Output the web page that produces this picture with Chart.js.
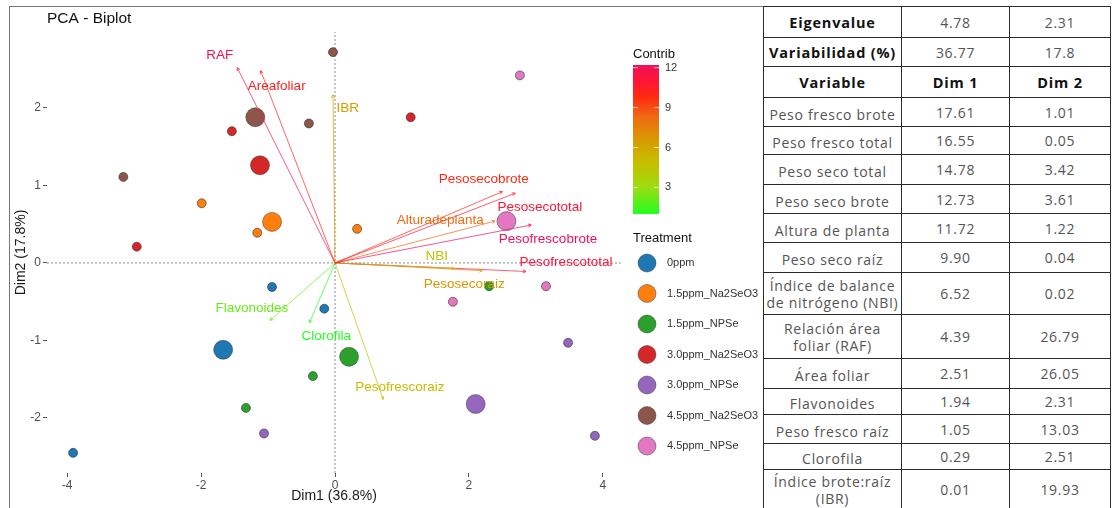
<!DOCTYPE html>
<html lang="es">
<head>
<meta charset="utf-8">
<title>PCA - Biplot</title>
<script src="https://cdn.jsdelivr.net/npm/chart.js@4.4.0/dist/chart.umd.min.js"></script>
<style>
  * { box-sizing: border-box; }
  body { margin: 0; background: #fff; width: 1112px; height: 508px; overflow: hidden; position: relative; }
  .frame { position: absolute; left: 9px; top: 6px; width: 760px; height: 510px; border-left: 1.5px solid #777; border-top: 1.5px solid #777; }
  #biplot { position: absolute; left: 0; top: 0; }
  table { position: absolute; left: 763px; top: 6px; border-collapse: collapse; font-family: "Open Sans", sans-serif; table-layout: fixed; }
  td { border: 1.5px solid #2b2b2b; text-align: center; padding: 0; font-size: 14px; color: #555; letter-spacing: 0.7px; line-height: 17px; white-space: nowrap; }
  td.h { font-weight: bold; color: #111; font-size: 14.5px; letter-spacing: 0.8px; }
  td.lbl { padding-top: 4px; }
</style>
</head>
<body>

<div class="frame"></div>
<canvas id="biplot" width="762" height="508"></canvas>
<table id="contribTable"></table>

<script>
// ---- data ----
const treatments = ['0ppm', '1.5ppm_Na2SeO3', '1.5ppm_NPSe', '3.0ppm_Na2SeO3', '3.0ppm_NPSe', '4.5ppm_Na2SeO3', '4.5ppm_NPSe'];
const indX = [[-0.94, -0.16, -3.91], [-1.99, -1.16, 0.33], [-0.33, -1.33, 2.30], [-1.54, -2.96, 1.13], [-1.06, 3.48, 3.88], [-0.03, -0.39, -3.16], [2.76, 1.76, 3.15]];
const indY = [[-0.31, -0.59, -2.45], [0.77, 0.39, 0.44], [-1.46, -1.87, -0.30], [1.70, 0.21, 1.88], [-2.20, -1.03, -2.23], [2.72, 1.80, 1.11], [2.42, -0.50, -0.30]];
const meanX = [-1.67, -0.94, 0.21, -1.12, 2.10, -1.19, 2.56];
const meanY = [-1.12, 0.53, -1.21, 1.26, -1.82, 1.88, 0.54];

const varNames = ['RAF', 'Areafoliar', 'IBR', 'Pesosecobrote', 'Pesosecototal', 'Pesofrescobrote', 'Alturadeplanta', 'NBI', 'Pesofrescototal', 'Pesosecoraiz', 'Flavonoides', 'Clorofila', 'Pesofrescoraiz'];
const arrowX = [-1.46, -1.11, -0.03, 2.50, 2.69, 2.93, 2.39, 1.79, 2.85, 2.20, -0.97, -0.38, 0.72];
const arrowY = [2.52, 2.48, 2.17, 0.92, 0.90, 0.49, 0.54, -0.07, -0.11, -0.10, -0.74, -0.77, -1.76];
const varContrib = [11.7, 10.2, 6.5, 9.8, 11.1, 12.2, 8.3, 4.4, 11.2, 6.7, 2.1, 1.0, 5.0];
const labelX = [-1.72, -0.87, 0.19, 2.22, 3.06, 3.18, 1.57, 1.52, 3.45, 1.93, -1.24, -0.13, 0.97];
const labelY = [2.68, 2.28, 2.00, 1.08, 0.72, 0.31, 0.55, 0.09, 0.01, -0.28, -0.58, -0.95, -1.61];

const contribTicks = [3, 6, 9, 12];

const eigenvalues = [4.78, 2.31];
const variability = [36.77, 17.8];
const tableVars = ['Peso fresco brote', 'Peso fresco total', 'Peso seco total', 'Peso seco brote', 'Altura de planta', 'Peso seco raíz',
  'Índice de balance\nde nitrógeno (NBI)', 'Relación área\nfoliar (RAF)', 'Área foliar', 'Flavonoides', 'Peso fresco raíz', 'Clorofila', 'Índice brote:raíz\n(IBR)'];
const dim1 = [17.61, 16.55, 14.78, 12.73, 11.72, 9.90, 6.52, 4.39, 2.51, 1.94, 1.05, 0.29, 0.01];
const dim2 = [1.01, 0.05, 3.42, 3.61, 1.22, 0.04, 0.02, 26.79, 26.05, 2.31, 13.03, 2.51, 19.93];

// ---- styles ----
const groupColors = ['#1f77b4', '#ff7f0e', '#2ca02c', '#d62728', '#9467bd', '#8c564b', '#e377c2'];
const contribStops = [[1.0, '#22ff22'], [3, '#9edc10'], [5, '#c8bc00'], [6.6, '#d99a00'], [8.3, '#f06a10'], [9.8, '#ff2a12'], [11, '#ff1535'], [12.2, '#f0105a']];
const contribMin = 1.0, contribMax = 12.2;
const xMin = -4.3, xMax = 4.27, yMin = -2.71, yMax = 2.98;
const rowHeights = [31, 29, 31, 29, 28, 30, 29, 29, 30, 42, 44, 30, 26, 29, 26, 40];
const colWidths = [138, 108, 101];

function hexToRgb(h) {
  return [parseInt(h.slice(1, 3), 16), parseInt(h.slice(3, 5), 16), parseInt(h.slice(5, 7), 16)];
}
function contribColor(v, alpha) {
  let c = hexToRgb(contribStops[contribStops.length - 1][1]);
  if (v <= contribStops[0][0]) c = hexToRgb(contribStops[0][1]);
  else {
    for (let i = 1; i < contribStops.length; i++) {
      if (v <= contribStops[i][0]) {
        const a = contribStops[i - 1], b = contribStops[i];
        const t = (v - a[0]) / (b[0] - a[0]);
        const ca = hexToRgb(a[1]), cb = hexToRgb(b[1]);
        c = ca.map((x, k) => Math.round(x + (cb[k] - x) * t));
        break;
      }
    }
  }
  return 'rgba(' + c.join(',') + ',' + (alpha === undefined ? 1 : alpha) + ')';
}

// ---- table ----
(function buildTable() {
  const rows = [];
  rows.push(['Eigenvalue', eigenvalues[0].toFixed(2), eigenvalues[1].toFixed(2)]);
  rows.push(['Variabilidad (%)', String(variability[0]), String(variability[1])]);
  rows.push(['Variable', 'Dim 1', 'Dim 2']);
  tableVars.forEach((v, i) => rows.push([v, dim1[i].toFixed(2), dim2[i].toFixed(2)]));
  let html = '<colgroup>' + colWidths.map(w => '<col style="width:' + w + 'px">').join('') + '</colgroup>';
  rows.forEach((r, i) => {
    html += '<tr style="height:' + rowHeights[i] + 'px">';
    r.forEach((c, j) => {
      let cls = '';
      if ((i < 2 && j === 0) || i === 2) cls = ' class="h"';
      else if (i > 2 && j === 0 && c.indexOf('\n') < 0) cls = ' class="lbl"';
      html += '<td' + cls + '>' + c.replace('\n', '<br>') + '</td>';
    });
    html += '</tr>';
  });
  document.getElementById('contribTable').innerHTML = html;
})();

// ---- chart ----
const datasets = [];

varNames.forEach((n, i) => {
  datasets.push({
    label: n,
    data: [{ x: 0, y: 0 }, { x: arrowX[i], y: arrowY[i] }],
    showLine: true,
    borderColor: contribColor(varContrib[i], 0.7),
    borderWidth: 1,
    pointRadius: 0,
    order: 1
  });
});

datasets.push({
  label: 'means',
  data: meanX.map((x, i) => ({ x: x, y: meanY[i] })),
  pointRadius: 9.5,
  backgroundColor: groupColors,
  borderColor: 'rgba(50,50,50,0.6)',
  borderWidth: 0.8,
  order: 3
});

treatments.forEach((t, g) => {
  datasets.push({
    label: t,
    data: indX[g].map((x, i) => ({ x: x, y: indY[g][i] })),
    pointRadius: 4.5,
    backgroundColor: groupColors[g],
    borderColor: 'rgba(40,40,40,0.7)',
    borderWidth: 0.8,
    order: 4
  });
});

datasets.push({
  label: 'h0',
  data: [{ x: xMin, y: 0 }, { x: xMax, y: 0 }],
  showLine: true, borderColor: '#8a8a8a', borderWidth: 1, borderDash: [2, 2], pointRadius: 0, order: 9
});
datasets.push({
  label: 'v0',
  data: [{ x: 0, y: yMin }, { x: 0, y: yMax }],
  showLine: true, borderColor: '#8a8a8a', borderWidth: 1, borderDash: [2, 2], pointRadius: 0, order: 9
});

const biplotDecor = {
  id: 'biplotDecor',
  afterDatasetsDraw(chart) {
    const c = chart.ctx, xs = chart.scales.x, ys = chart.scales.y;
    c.save();
    // small arrow heads
    varNames.forEach((n, i) => {
      const x0 = xs.getPixelForValue(0), y0 = ys.getPixelForValue(0);
      const x1 = xs.getPixelForValue(arrowX[i]), y1 = ys.getPixelForValue(arrowY[i]);
      const ang = Math.atan2(y1 - y0, x1 - x0);
      c.strokeStyle = contribColor(varContrib[i], 0.8);
      c.lineWidth = 1;
      c.beginPath();
      c.moveTo(x1 - 3.5 * Math.cos(ang - 0.5), y1 - 3.5 * Math.sin(ang - 0.5));
      c.lineTo(x1, y1);
      c.lineTo(x1 - 3.5 * Math.cos(ang + 0.5), y1 - 3.5 * Math.sin(ang + 0.5));
      c.stroke();
    });
    // variable labels
    c.font = '13.5px "Liberation Sans", Arial, sans-serif';
    c.textAlign = 'center';
    c.textBaseline = 'middle';
    varNames.forEach((n, i) => {
      c.fillStyle = contribColor(varContrib[i], 1);
      c.fillText(n, xs.getPixelForValue(labelX[i]), ys.getPixelForValue(labelY[i]));
    });
    c.restore();
  },
  afterDraw(chart) {
    const c = chart.ctx;
    c.save();
    c.textBaseline = 'middle';
    c.textAlign = 'left';
    c.fillStyle = '#111';
    c.font = '15.5px "Liberation Sans", Arial, sans-serif';
    c.fillText('PCA - Biplot', 47, 19);

    // colour bar
    const bx = 633, bw = 26, top = 65, bot = 214;
    c.font = '13px "Liberation Sans", Arial, sans-serif';
    c.fillStyle = '#111';
    c.fillText('Contrib', bx, 54);
    const grad = c.createLinearGradient(0, bot, 0, top);
    contribStops.forEach(s => grad.addColorStop((s[0] - contribMin) / (contribMax - contribMin), s[1]));
    c.fillStyle = grad;
    c.fillRect(bx, top, bw, bot - top);
    c.font = '11px "Liberation Sans", Arial, sans-serif';
    contribTicks.forEach(v => {
      const y = bot - (v - contribMin) / (contribMax - contribMin) * (bot - top);
      c.strokeStyle = 'rgba(255,255,255,0.7)';
      c.lineWidth = 1;
      c.beginPath();
      c.moveTo(bx, y); c.lineTo(bx + 5, y);
      c.moveTo(bx + bw - 5, y); c.lineTo(bx + bw, y);
      c.stroke();
      c.fillStyle = '#333';
      c.fillText(String(v), bx + bw + 6, y);
    });

    // treatment legend
    c.font = '13px "Liberation Sans", Arial, sans-serif';
    c.fillStyle = '#111';
    c.fillText('Treatment', bx, 238);
    c.font = '11px "Liberation Sans", Arial, sans-serif';
    treatments.forEach((t, g) => {
      const y = 263 + g * 30.5;
      c.beginPath();
      c.arc(bx + 14, y, 9, 0, Math.PI * 2);
      c.fillStyle = groupColors[g];
      c.fill();
      c.strokeStyle = 'rgba(50,50,50,0.6)';
      c.lineWidth = 0.8;
      c.stroke();
      c.fillStyle = '#333';
      c.fillText(t, bx + 34, y);
    });
    c.restore();
  }
};

new Chart(document.getElementById('biplot'), {
  type: 'scatter',
  data: { datasets: datasets },
  options: {
    responsive: false,
    animation: false,
    layout: { padding: { left: 10, right: 141, top: 32, bottom: 0 } },
    plugins: { legend: { display: false }, tooltip: { enabled: false } },
    scales: {
      x: {
        type: 'linear', min: xMin, max: xMax,
        ticks: { stepSize: 2, includeBounds: false, color: '#4d4d4d', font: { size: 12 }, padding: 1 },
        grid: { drawOnChartArea: false, tickLength: 4, color: '#555' },
        border: { display: false },
        title: { display: true, text: 'Dim1 (36.8%)', color: '#1a1a1a', font: { size: 14 }, padding: { top: 0, bottom: 3 } },
        afterFit(s) { s.height = 35; }
      },
      y: {
        type: 'linear', min: yMin, max: yMax,
        ticks: { stepSize: 1, includeBounds: false, color: '#4d4d4d', font: { size: 12 }, padding: 2 },
        grid: { drawOnChartArea: false, tickLength: 4, color: '#555' },
        border: { display: false },
        title: { display: true, text: 'Dim2 (17.8%)', color: '#1a1a1a', font: { size: 14 }, padding: { top: 3, bottom: 0 } },
        afterFit(s) { s.width = 37; }
      }
    }
  },
  plugins: [biplotDecor]
});
</script>
</body>
</html>
